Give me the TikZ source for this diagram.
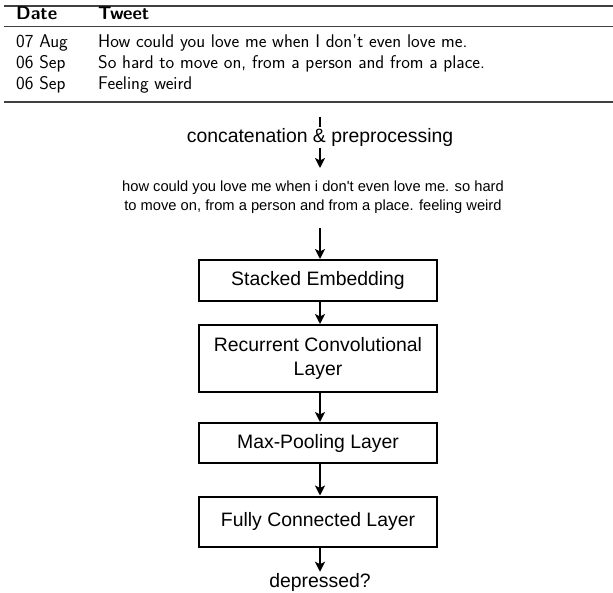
\documentclass[tikz,border=0pt]{standalone}
\usepackage{fontspec}
\newfontfamily\arial{Liberation Sans}
\usetikzlibrary{arrows.meta}
\tikzset{
  x=1pt,y=1pt,
  tabtext/.style={anchor=base west,inner sep=0pt,font=\sffamily\fontsize{18.4}{22}\selectfont},
  tabhead/.style={anchor=base west,inner sep=0pt,font=\sffamily\bfseries\fontsize{18.4}{22}\selectfont},
  layer/.style={draw,line width=2pt,minimum width=238pt,align=center,inner sep=2pt,font=\arial\fontsize{19.4}{23.5}\selectfont},
  flow/.style={line width=1.8pt,-{Stealth[length=10pt,width=10pt,inset=2.5pt]}},
  lbl/.style={font=\arial\fontsize{19.4}{23}\selectfont,inner sep=1pt},
  rulethick/.style={line width=1.3pt,black!75},
  rulethin/.style={line width=0.9pt,black!75}
}
\begin{document}
\begin{tikzpicture}
\useasboundingbox (0,0) rectangle (613,-593);
% table
\coordinate (tl) at (4,-6); \coordinate (tr) at (613,-6);
\coordinate (ml) at (4,-26); \coordinate (mr) at (613,-26);
\coordinate (bl) at (4,-102); \coordinate (br) at (613,-102);
\draw[rulethick] (tl) -- (tr);
\draw[rulethin] (ml) -- (mr);
\draw[rulethick] (bl) -- (br);
\node[tabhead] (hd) at (16,-20) {Date};
\node[tabhead] (ht) at (98,-20) {Tweet};
\node[tabtext] (d1) at (16,-48) {07 Aug};
\node[tabtext] (t1) at (98,-48) {How could you love me when I don't even love me.};
\node[tabtext] (d2) at (16,-69) {06 Sep};
\node[tabtext] (t2) at (98,-69) {So hard to move on, from a person and from a place.};
\node[tabtext] (d3) at (16,-90) {06 Sep};
\node[tabtext] (t3) at (98,-90) {Feeling weird};
% flow
\coordinate (s0) at (320,-117);
\node[lbl] (cat) at (320,-137.5) {concatenation \& preprocessing};
\coordinate (c1) at (320,-168);
\node[font=\arial\fontsize{14.7}{19}\selectfont,align=center,inner sep=2pt] (para) at (313,-197)
  {how could you love me when i don't even love me. so hard\\to move on, from a person and from a place. feeling weird};
\node[layer,minimum height=41pt] (b1) at (318,-280.5) {Stacked Embedding};
\node[layer,minimum height=67pt] (b2) at (318,-358.5) {Recurrent Convolutional\\Layer};
\node[layer,minimum height=40pt] (b3) at (318,-443) {Max-Pooling Layer};
\node[layer,minimum height=50pt] (b4) at (318,-521.5) {Fully Connected Layer};
\node[lbl] (out) at (320,-582) {depressed?};
\draw[line width=1.8pt] (s0) -- (cat.north -| s0);
\draw[flow] (cat.south -| s0) -- (c1);
\coordinate (p1) at (320,-228);
\draw[flow] (p1) -- (b1.north -| p1);
\draw[flow] (b1.south -| p1) -- (b2.north -| p1);
\draw[flow] (b2.south -| p1) -- (b3.north -| p1);
\draw[flow] (b3.south -| p1) -- (b4.north -| p1);
\draw[flow] (b4.south -| p1) -- (out.north -| p1);
\end{tikzpicture}
\end{document}
